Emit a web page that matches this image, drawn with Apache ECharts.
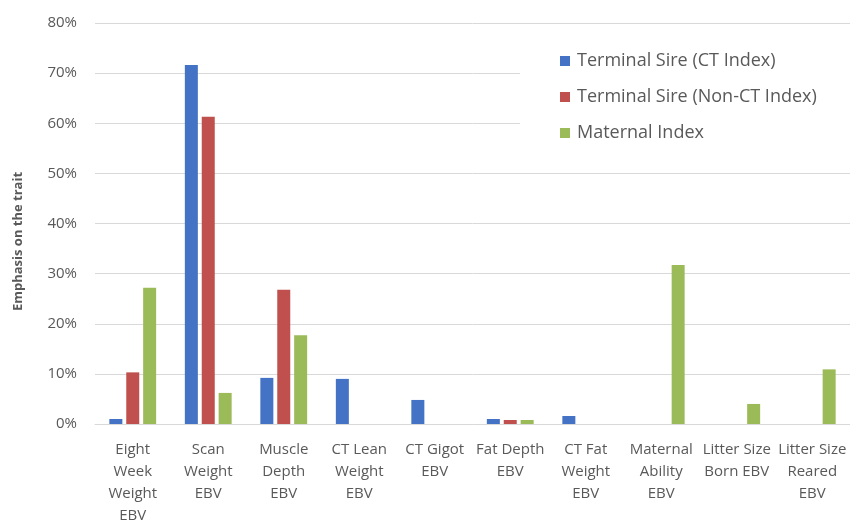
<!DOCTYPE html>
<html>
<head>
<meta charset="utf-8">
<script src="https://cdn.jsdelivr.net/npm/echarts@6/dist/echarts.min.js"></script>
<style>
  html, body { margin: 0; padding: 0; background: #fff; }
  #chart { width: 850px; height: 521px; }
</style>
</head>
<body>
<div id="chart"></div>
<script>
// Trait categories (x axis), with line breaks as drawn under each group
const categories = [
  'Eight\nWeek\nWeight\nEBV',
  'Scan\nWeight\nEBV',
  'Muscle\nDepth\nEBV',
  'CT Lean\nWeight\nEBV',
  'CT Gigot\nEBV',
  'Fat Depth\nEBV',
  'CT Fat\nWeight\nEBV',
  'Maternal\nAbility\nEBV',
  'Litter Size\nBorn EBV',
  'Litter Size\nReared\nEBV'
];

// Emphasis on each trait, in percent (null = trait not in the index)
const terminalCT    = [1.0, 71.6, 9.2, 9.0, 4.8, 1.0, 1.6, null, null, null];
const terminalNonCT = [10.3, 61.3, 26.8, null, null, 0.8, null, null, null, null];
const maternal      = [27.2, 6.2, 17.7, null, null, 0.8, null, 31.7, 4.0, 10.9];

const seriesNames = [
  'Terminal Sire (CT Index)',
  'Terminal Sire (Non-CT Index)',
  'Maternal Index'
];

// Y axis ticks: 0% .. 80% in steps of 10
const yMin = 0, yMax = 80, yStep = 10;

const colors = ['#4472C4', '#C0504D', '#9BBB59'];
const fontFamily = '"Open Sans", "Liberation Sans", sans-serif';
const textColor = '#595959';

const chart = echarts.init(document.getElementById('chart'), null, { renderer: 'canvas' });

const barStyle = (name, data, color) => ({
  name: name,
  type: 'bar',
  data: data,
  barWidth: 13,
  barGap: '30%',
  itemStyle: { color: color },
  emphasis: { disabled: true }
});

chart.setOption({
  animation: false,
  backgroundColor: '#ffffff',
  color: colors,
  textStyle: { fontFamily: fontFamily },
  grid: {
    left: 95, right: 0, top: 23, bottom: 97,
    containLabel: false,
    outerBoundsMode: 'none'
  },
  legend: {
    orient: 'vertical',
    left: 520,
    top: 32,
    padding: [20, 100, 22, 40],
    backgroundColor: '#ffffff',
    itemWidth: 10,
    itemHeight: 10,
    itemGap: 18,
    icon: 'rect',
    textStyle: {
      fontFamily: fontFamily, fontSize: 18, color: textColor,
      padding: [0, 0, 0, 2]
    },
    data: seriesNames
  },
  xAxis: {
    type: 'category',
    data: categories,
    axisLine: { lineStyle: { color: '#d9d9d9', width: 1 } },
    axisTick: { show: false },
    axisLabel: {
      interval: 0,
      margin: 15,
      fontSize: 15,
      lineHeight: 22,
      color: textColor,
      fontFamily: fontFamily
    }
  },
  yAxis: {
    type: 'value',
    min: yMin,
    max: yMax,
    interval: yStep,
    name: 'Emphasis on the trait',
    nameLocation: 'middle',
    nameGap: 70,
    nameTextStyle: {
      fontSize: 13,
      fontWeight: 'bold',
      color: textColor,
      fontFamily: fontFamily,
      padding: [0, 36, 0, 0]
    },
    axisLine: { show: false },
    axisTick: { show: false },
    splitLine: { lineStyle: { color: '#d9d9d9', width: 1 } },
    axisLabel: {
      formatter: '{value}%',
      margin: 18,
      fontSize: 15,
      color: textColor,
      fontFamily: fontFamily
    }
  },
  series: [
    barStyle(seriesNames[0], terminalCT, colors[0]),
    barStyle(seriesNames[1], terminalNonCT, colors[1]),
    barStyle(seriesNames[2], maternal, colors[2])
  ]
});
</script>
</body>
</html>
